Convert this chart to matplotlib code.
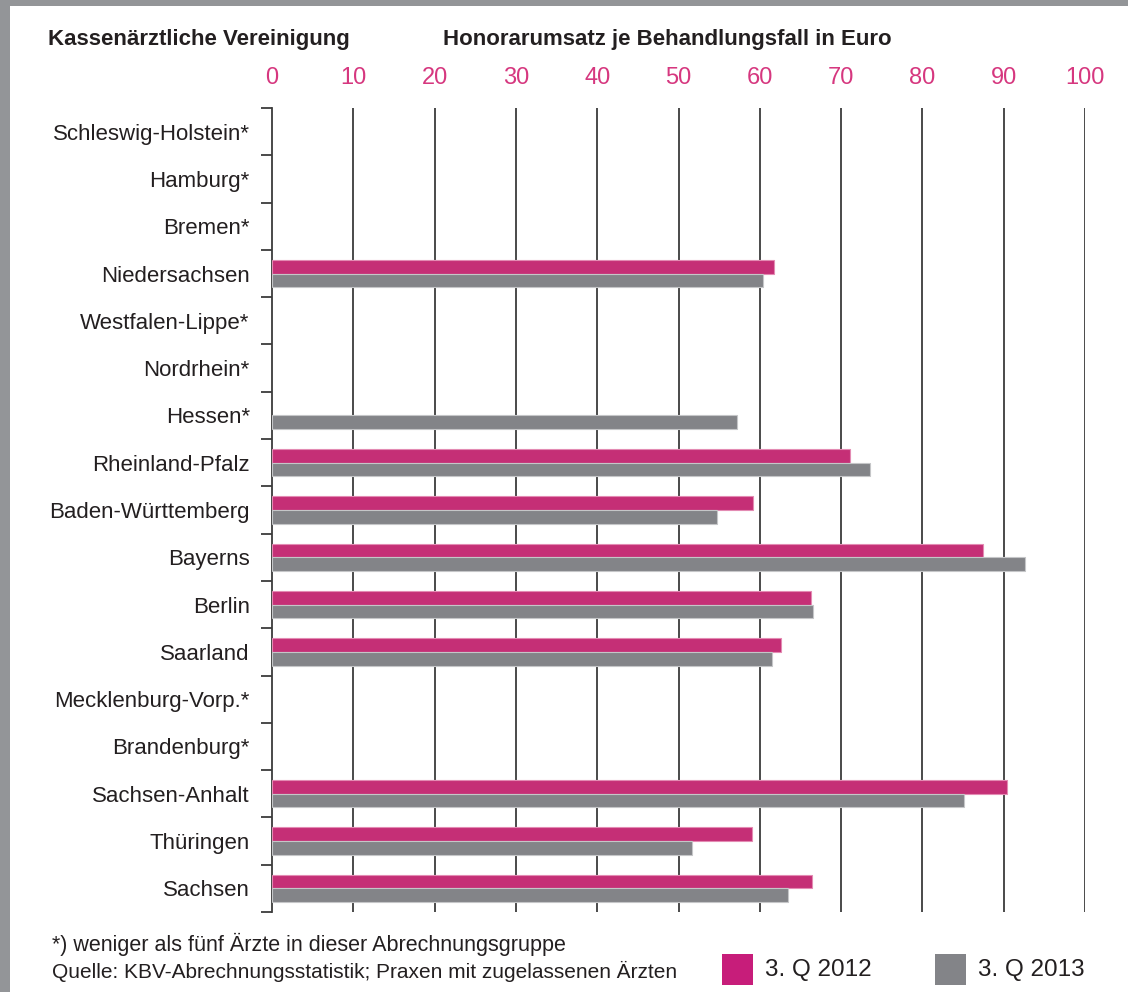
import numpy as np
import matplotlib
matplotlib.use('Agg')
import matplotlib.pyplot as plt
from matplotlib.patches import Rectangle

plt.rcParams['font.family'] = ['Liberation Sans Narrow', 'Liberation Sans', 'DejaVu Sans']

# data (None = no value, fewer than five doctors)
regions = [
    'Schleswig-Holstein*', 'Hamburg*', 'Bremen*', 'Niedersachsen',
    'Westfalen-Lippe*', 'Nordrhein*', 'Hessen*', 'Rheinland-Pfalz',
    'Baden-Württemberg', 'Bayerns', 'Berlin', 'Saarland',
    'Mecklenburg-Vorp.*', 'Brandenburg*', 'Sachsen-Anhalt', 'Thüringen', 'Sachsen',
]
q3_2012 = [None, None, None, 61.8, None, None, None, 71.1,
           59.2, 87.5, 66.3, 62.6, None, None, 90.4, 59.0, 66.4]
q3_2013 = [None, None, None, 60.4, None, None, 57.2, 73.5,
           54.7, 92.6, 66.5, 61.5, None, None, 85.1, 51.6, 63.5]
xticks = [0, 10, 20, 30, 40, 50, 60, 70, 80, 90, 100]

pink = '#C52F76'
grey = '#838488'
label_pink = '#D6377F'
dark = '#231F20'

fig = plt.figure(figsize=(11.28, 9.92), dpi=100)
fig.patch.set_facecolor('white')

# grey frame on the top and left edge
fig.add_artist(Rectangle((0, 0), 10 / 1128, 1, transform=fig.transFigure, color='#939598', lw=0))
fig.add_artist(Rectangle((0, 1 - 6 / 992), 1, 6 / 992, transform=fig.transFigure, color='#939598', lw=0))

ax = fig.add_axes([272 / 1128, 1 - 912 / 992, (1085 - 272) / 1128, (912 - 108) / 992])

n = len(regions)
centers = np.arange(n) + 0.5
h = 0.29

for x in xticks[1:]:
    ax.axvline(x, color='#3c3c3c', lw=1.3, zorder=1)

# only draw the bars that have a value
i12 = [i for i, v in enumerate(q3_2012) if v is not None]
i13 = [i for i, v in enumerate(q3_2013) if v is not None]
ax.barh(centers[i12] - h / 2, [q3_2012[i] for i in i12], height=h, color=pink,
        edgecolor='#E38BB3', linewidth=0.8, zorder=3)
ax.barh(centers[i13] + h / 2, [q3_2013[i] for i in i13], height=h, color=grey,
        edgecolor='#C5C6C8', linewidth=0.8, zorder=3)

ax.set_xlim(0, 100)
ax.set_ylim(n, 0)

ax.xaxis.tick_top()
ax.set_xticks(xticks)
ax.set_xticklabels([str(t) for t in xticks])
ax.tick_params(axis='x', length=0, pad=14, labelsize=17, labelcolor=label_pink)

ax.set_yticks(np.arange(n + 1))
ax.set_yticklabels([])
ax.set_yticks(centers, minor=True)
ax.set_yticklabels(regions, minor=True)
ax.tick_params(axis='y', which='major', length=8, width=1.3, color='#3c3c3c', direction='out')
ax.tick_params(axis='y', which='minor', length=0, pad=16, labelsize=16, labelcolor=dark)

for s in ['top', 'right', 'bottom']:
    ax.spines[s].set_visible(False)
ax.spines['left'].set_color('#3c3c3c')
ax.spines['left'].set_linewidth(1.3)

fig.text(48 / 1128, 1 - 40 / 992, 'Kassenärztliche Vereinigung', fontsize=16,
         fontweight='bold', color=dark, va='center', ha='left')
fig.text(443 / 1128, 1 - 40 / 992, 'Honorarumsatz je Behandlungsfall in Euro', fontsize=16,
         fontweight='bold', color=dark, va='center', ha='left')

fig.text(52 / 1128, 1 - 944 / 992, '*) weniger als fünf Ärzte in dieser Abrechnungsgruppe',
         fontsize=15.5, color=dark, va='center', ha='left')
fig.text(52 / 1128, 1 - 971 / 992, 'Quelle: KBV-Abrechnungsstatistik; Praxen mit zugelassenen Ärzten',
         fontsize=15, color=dark, va='center', ha='left')

# legend
fig.add_artist(Rectangle((722 / 1128, 1 - 985 / 992), 31 / 1128, 31 / 992,
                         transform=fig.transFigure, color='#C71D7A', lw=0))
fig.text(765 / 1128, 1 - 970 / 992, '3. Q 2012', fontsize=17.5, color=dark, va='center', ha='left')
fig.add_artist(Rectangle((935 / 1128, 1 - 985 / 992), 31 / 1128, 31 / 992,
                         transform=fig.transFigure, color=grey, lw=0))
fig.text(978 / 1128, 1 - 970 / 992, '3. Q 2013', fontsize=17.5, color=dark, va='center', ha='left')

fig.savefig('out.png', dpi=100)
